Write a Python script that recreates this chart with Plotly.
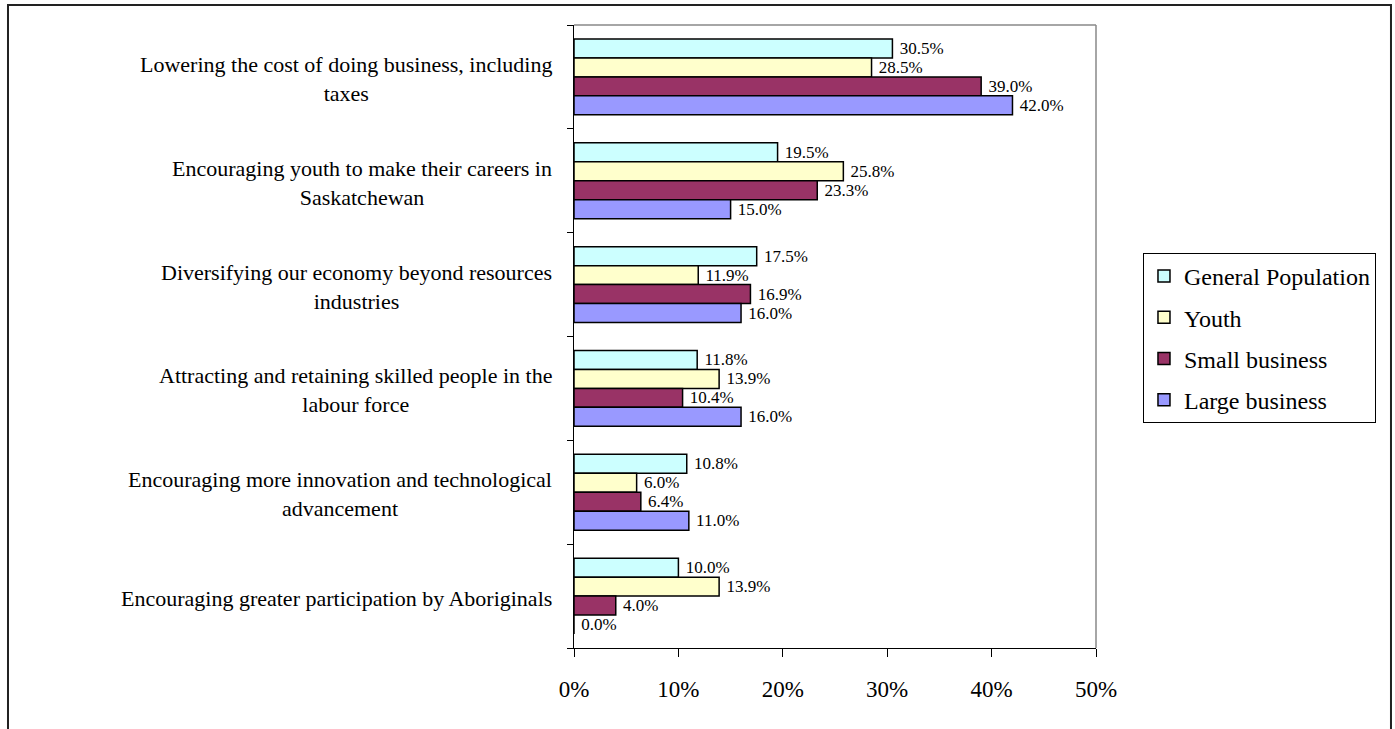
import plotly.graph_objects as go

# Survey priorities, top to bottom as drawn
categories = [
    "Lowering the cost of doing business, including<br>taxes",
    "Encouraging youth to make their careers in<br>Saskatchewan",
    "Diversifying our economy beyond resources<br>industries",
    "Attracting and retaining skilled people in the<br>labour force",
    "Encouraging more innovation and technological<br>advancement",
    "Encouraging greater participation by Aboriginals",
]

general_population = [0.305, 0.195, 0.175, 0.118, 0.108, 0.100]
youth = [0.285, 0.258, 0.119, 0.139, 0.060, 0.139]
small_business = [0.390, 0.233, 0.169, 0.104, 0.064, 0.040]
large_business = [0.420, 0.150, 0.160, 0.160, 0.110, 0.000]

series_names = ["General Population", "Youth", "Small business", "Large business"]
series_values = [general_population, youth, small_business, large_business]
series_colors = ["#CCFFFF", "#FFFFCC", "#993366", "#9999FF"]

x_ticks = [0, 0.1, 0.2, 0.3, 0.4, 0.5]

FONT = "Liberation Serif"

fig = go.Figure()
for name, vals, color in zip(series_names, series_values, series_colors):
    fig.add_trace(go.Bar(
        name=name,
        legendgroup=name,
        y=list(range(len(categories))),
        x=vals,
        orientation="h",
        marker=dict(color=color, line=dict(color="black", width=1.5)),
        texttemplate="\u00a0%{x:.1%}",
        textposition="outside",
        constraintext="none",
        cliponaxis=False,
        textfont=dict(family=FONT, size=17, color="black"),
    ))

# Category names, centred multi-line, right edge beside the axis
for i, cat in enumerate(categories):
    fig.add_annotation(
        xref="paper", yref="y", x=0, y=i, xshift=-20,
        yshift=-2,
        xanchor="right", yanchor="middle", align="center",
        text=cat, showarrow=False,
        font=dict(family=FONT, size=22, color="black"),
    )

fig.update_layout(
    width=1395, height=729,
    margin=dict(l=574, r=299, t=25, b=81),
    paper_bgcolor="white", plot_bgcolor="white",
    barmode="group", bargap=0.27, bargroupgap=0,
    font=dict(family=FONT, color="black"),
    showlegend=True,
    legend=dict(
        x=1.09, y=0.634, xanchor="left", yanchor="top",
        bordercolor="black", borderwidth=1, bgcolor="white",
        font=dict(family=FONT, size=24, color="black"),
        traceorder="grouped", tracegroupgap=7,
    ),
    xaxis=dict(
        range=[0, 0.5], tickvals=x_ticks, tickformat=".0%",
        showgrid=False, zeroline=False,
        showline=True, linecolor="black", linewidth=1,
        ticks="outside", ticklen=8, tickcolor="black",
        tickfont=dict(family=FONT, size=23, color="black"),
        ticklabelstandoff=12,
    ),
    yaxis=dict(
        range=[len(categories) - 0.5, -0.5],
        tickvals=[i - 0.5 for i in range(len(categories) + 1)],
        showticklabels=False, showgrid=False, zeroline=False,
        showline=True, linecolor="black", linewidth=1,
        ticks="outside", ticklen=6, tickcolor="black",
    ),
    shapes=[
        # light top and right edges of the plot area
        dict(type="line", xref="paper", yref="paper", x0=0, x1=1, y0=1, y1=1,
             line=dict(color="#888888", width=1.5)),
        dict(type="line", xref="paper", yref="paper", x0=1, x1=1, y0=0, y1=1,
             line=dict(color="#888888", width=1.5)),
        # outer chart frame
        dict(type="rect", xref="paper", yref="paper",
             x0=-1.0843, x1=1.5651, y0=-0.2, y1=1.0321,
             line=dict(color="#222222", width=2)),
    ],
)

fig.write_html("out.html")
